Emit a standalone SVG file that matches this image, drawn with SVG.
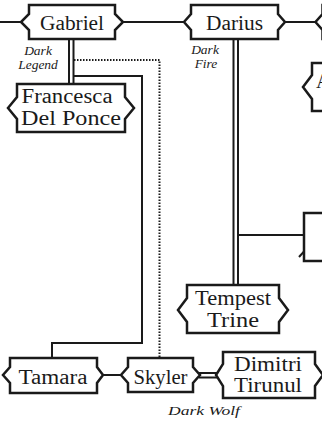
<svg xmlns="http://www.w3.org/2000/svg" width="322" height="423" viewBox="0 0 322 423">
<style>
.box{fill:#fff;stroke:#1a1a1a;stroke-width:2.5;stroke-linejoin:miter}
.ln{fill:none;stroke:#1a1a1a;stroke-width:2}
.dot{fill:none;stroke:#1a1a1a;stroke-width:2;stroke-dasharray:1.5 1.5}
.t{font-size:20px;fill:#1a1a1a;text-anchor:middle}
.i{font-size:13.5px;font-style:italic;fill:#1a1a1a;text-anchor:middle}
</style>
<rect width="322" height="423" fill="#fff"/>
<g id="connectors">
<path class="ln" d="M0,22 H22"/>
<path class="ln" d="M122,22 H185"/>
<path class="ln" d="M285,22 H316"/>
<path class="ln" d="M69,39 V84 M73.5,39 V84"/>
<path class="ln" d="M73.5,76 H142 V343 H52 V358"/>
<path class="dot" d="M74,60 H159.5 V358"/>
<path class="ln" d="M233.5,39 V285 M238,39 V285"/>
<path class="ln" d="M238,235 H304"/>
<path class="ln" d="M299,257 L309.5,245.5"/>
<path class="ln" d="M103,375 H122"/>
<path class="ln" d="M199,373 H217 M199,377.5 H217"/>
</g>
<g font-family="Liberation Serif, DejaVu Serif, serif">
<g id="gabriel">
<path class="box" d="M29,5 H115 V14 L123,22 L115,30 V39 H29 V30 L21,22 L29,14 Z"/>
<text class="t" x="72" y="30" textLength="64" lengthAdjust="spacingAndGlyphs">Gabriel</text>
</g>
<g id="darius">
<path class="box" d="M191,5 H278 V14 L285,22 L278,30 V39 H191 V30 L184,22 L191,14 Z"/>
<text class="t" x="234.5" y="30" textLength="57" lengthAdjust="spacingAndGlyphs">Darius</text>
</g>
<g id="right-top">
<path class="box" d="M335,5 H322.5 V14 L315.5,22 L322.5,30 V39 H335"/>
</g>
<g id="right-a">
<path class="box" d="M335,63 H312 V75 L303,87 L312,99 V111 H335"/>
<text class="t" x="316" y="88" style="text-anchor:start">A</text>
</g>
<g id="right-mid">
<path class="box" d="M335,213 H304 V261 H335"/>
</g>
<g id="francesca">
<path class="box" d="M17,84 H125 V97 L134,108 L125,119 V132 H17 V119 L8,108 L17,97 Z"/>
<text class="t" x="67" y="103" textLength="91" lengthAdjust="spacingAndGlyphs">Francesca</text>
<text class="t" x="71" y="125" textLength="100" lengthAdjust="spacingAndGlyphs">Del Ponce</text>
</g>
<g id="tempest">
<path class="box" d="M187,285 H279 V298 L288,310 L279,322 V333 H187 V322 L178,310 L187,298 Z"/>
<text class="t" x="233" y="305" textLength="76" lengthAdjust="spacingAndGlyphs">Tempest</text>
<text class="t" x="233" y="327" textLength="52" lengthAdjust="spacingAndGlyphs">Trine</text>
</g>
<g id="tamara">
<path class="box" d="M10,358 H97 V367 L103,375 L97,383 V393 H10 V383 L3,375 L10,367 Z"/>
<text class="t" x="53" y="384" textLength="69" lengthAdjust="spacingAndGlyphs">Tamara</text>
</g>
<g id="skyler">
<path class="box" d="M128,358 H193 V367 L200,375 L193,383 V392 H128 V383 L121,375 L128,367 Z"/>
<text class="t" x="160.5" y="384" textLength="54" lengthAdjust="spacingAndGlyphs">Skyler</text>
</g>
<g id="dimitri">
<path class="box" d="M223,352 H315 V364 L323,375 L315,386 V398 H223 V386 L216,375 L223,364 Z"/>
<text class="t" x="268" y="371" textLength="68" lengthAdjust="spacingAndGlyphs">Dimitri</text>
<text class="t" x="268" y="392" textLength="68" lengthAdjust="spacingAndGlyphs">Tirunul</text>
</g>
<g id="labels">
<text class="i" x="38" y="55">Dark</text>
<text class="i" x="38" y="69">Legend</text>
<text class="i" x="205" y="54">Dark</text>
<text class="i" x="206" y="68">Fire</text>
<text class="i" x="204" y="415" textLength="72" lengthAdjust="spacingAndGlyphs">Dark Wolf</text>
</g>
</g>
</svg>
